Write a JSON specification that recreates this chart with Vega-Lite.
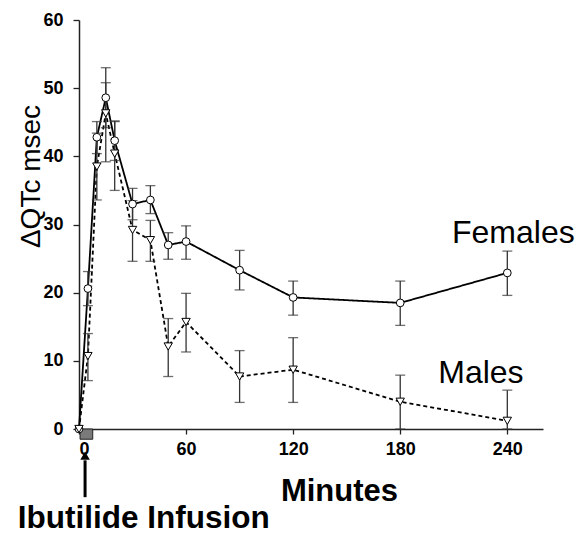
{
  "$schema": "https://vega.github.io/schema/vega-lite/v6.json",
  "width": 464,
  "height": 409,
  "autosize": {"type": "none"},
  "padding": {"left": 79, "top": 20, "right": 33, "bottom": 105},
  "background": "white",
  "config": {
    "view": {"stroke": null},
    "font": "Liberation Sans",
    "axis": {"grid": false, "domainColor": "#222", "domainWidth": 1.5, "tickColor": "#222", "tickWidth": 1.3, "labelColor": "black", "titleColor": "black"}
  },
  "datasets": {
    "series": [
      {"t": 0, "sex": "Females", "v": 0},
      {"t": 5, "sex": "Females", "v": 20.6, "lo": 18.1, "hi": 23.1},
      {"t": 10, "sex": "Females", "v": 42.8, "lo": 40.4, "hi": 45.1},
      {"t": 15, "sex": "Females", "v": 48.6, "lo": 44.2, "hi": 53.0},
      {"t": 20, "sex": "Females", "v": 42.3, "lo": 39.4, "hi": 45.2},
      {"t": 30, "sex": "Females", "v": 33.0, "lo": 30.7, "hi": 35.3},
      {"t": 40, "sex": "Females", "v": 33.6, "lo": 31.6, "hi": 35.7},
      {"t": 50, "sex": "Females", "v": 27.0, "lo": 24.9, "hi": 28.8},
      {"t": 60, "sex": "Females", "v": 27.5, "lo": 24.9, "hi": 29.8},
      {"t": 90, "sex": "Females", "v": 23.3, "lo": 20.4, "hi": 26.2},
      {"t": 120, "sex": "Females", "v": 19.3, "lo": 16.7, "hi": 21.7},
      {"t": 180, "sex": "Females", "v": 18.5, "lo": 15.2, "hi": 21.7},
      {"t": 240, "sex": "Females", "v": 22.9, "lo": 19.6, "hi": 26.1},
      {"t": 0, "sex": "Males", "v": 0},
      {"t": 5, "sex": "Males", "v": 10.7, "lo": 7.1, "hi": 14.0},
      {"t": 10, "sex": "Males", "v": 38.5, "lo": 33.6, "hi": 43.4},
      {"t": 15, "sex": "Males", "v": 46.3, "lo": 39.2, "hi": 50.8},
      {"t": 20, "sex": "Males", "v": 40.4, "lo": 35.0, "hi": 45.1},
      {"t": 30, "sex": "Males", "v": 29.2, "lo": 24.6, "hi": 33.5},
      {"t": 40, "sex": "Males", "v": 27.7, "lo": 24.6, "hi": 30.6},
      {"t": 50, "sex": "Males", "v": 12.1, "lo": 7.7, "hi": 16.2},
      {"t": 60, "sex": "Males", "v": 15.7, "lo": 11.3, "hi": 19.9},
      {"t": 90, "sex": "Males", "v": 7.7, "lo": 3.9, "hi": 11.5},
      {"t": 120, "sex": "Males", "v": 8.7, "lo": 3.9, "hi": 13.4},
      {"t": 180, "sex": "Males", "v": 4.0, "lo": 0, "hi": 7.9},
      {"t": 240, "sex": "Males", "v": 1.2, "lo": 0, "hi": 5.7}
    ],
    "labels": [
      {"label": "Females", "t": 209, "v": 27.3},
      {"label": "Males", "t": 201.3, "v": 6.7}
    ],
    "note": [{"label": "Ibutilide Infusion", "t": 36.3, "v": -14.5}],
    "infusion": [{"start": 0.6, "end": 7.7, "top": 0, "bottom": -1.5}],
    "arrow": [{"t": 3.4, "from": -10, "to": -4.6, "tip": -3.9}]
  },
  "layer": [
    {
      "data": {"name": "infusion"},
      "mark": {"type": "rect", "fill": "#7a7a7a", "stroke": "#222", "strokeWidth": 1},
      "encoding": {
        "x": {"field": "start", "type": "quantitative", "scale": {"domain": [0, 260], "nice": false},
          "axis": {"values": [0, 60, 120, 180, 240], "title": "Minutes", "labelFontSize": 18, "labelFontWeight": "bold", "labelPadding": 6, "tickSize": 5, "titleFontSize": 31, "titleFontWeight": "bold", "titleX": 260, "titleY": 71, "titleBaseline": "alphabetic", "titleAlign": "center"}},
        "x2": {"field": "end"},
        "y": {"field": "top", "type": "quantitative", "scale": {"domain": [0, 60], "nice": false},
          "axis": {"values": [0, 10, 20, 30, 40, 50, 60], "title": "ΔQTc msec", "labelFontSize": 18, "labelFontWeight": "bold", "labelPadding": 10, "tickSize": 6, "titleFontSize": 28, "titleFontWeight": "normal", "titleX": -40, "titleY": 156, "titleBaseline": "alphabetic", "titleAlign": "center", "titleAngle": -90}},
        "y2": {"field": "bottom"}
      }
    },
    {
      "data": {"name": "series"},
      "mark": {"type": "line", "color": "black", "strokeWidth": 1.8},
      "encoding": {
        "x": {"field": "t", "type": "quantitative", "scale": {"domain": [0, 260], "nice": false}},
        "y": {"field": "v", "type": "quantitative", "scale": {"domain": [0, 60], "nice": false}},
        "detail": {"field": "sex"},
        "strokeDash": {"field": "sex", "type": "nominal", "scale": {"domain": ["Females", "Males"], "range": [[1, 0], [4, 3]]}, "legend": null}
      }
    },
    {
      "data": {"name": "series"},
      "transform": [{"filter": "isValid(datum.lo)"}],
      "layer": [
        {
          "mark": {"type": "rule", "color": "#333", "strokeWidth": 1.3},
          "encoding": {
            "x": {"field": "t", "type": "quantitative", "scale": {"domain": [0, 260], "nice": false}},
            "y": {"field": "lo", "type": "quantitative", "scale": {"domain": [0, 60], "nice": false}},
            "y2": {"field": "hi"}
          }
        },
        {
          "mark": {"type": "tick", "orient": "horizontal", "color": "#333", "thickness": 1.3, "size": 10},
          "encoding": {
            "x": {"field": "t", "type": "quantitative", "scale": {"domain": [0, 260], "nice": false}},
            "y": {"field": "hi", "type": "quantitative", "scale": {"domain": [0, 60], "nice": false}}
          }
        },
        {
          "mark": {"type": "tick", "orient": "horizontal", "color": "#333", "thickness": 1.3, "size": 10},
          "encoding": {
            "x": {"field": "t", "type": "quantitative", "scale": {"domain": [0, 260], "nice": false}},
            "y": {"field": "lo", "type": "quantitative", "scale": {"domain": [0, 60], "nice": false}}
          }
        }
      ]
    },
    {
      "data": {"name": "series"},
      "mark": {"type": "point", "filled": true, "fill": "white", "stroke": "black", "strokeWidth": 1, "opacity": 1},
      "encoding": {
        "x": {"field": "t", "type": "quantitative", "scale": {"domain": [0, 260], "nice": false}},
        "y": {"field": "v", "type": "quantitative", "scale": {"domain": [0, 60], "nice": false}},
        "shape": {"field": "sex", "type": "nominal", "scale": {"domain": ["Females", "Males"], "range": ["circle", "triangle-down"]}, "legend": null},
        "size": {"field": "sex", "type": "nominal", "scale": {"domain": ["Females", "Males"], "range": [60, 70]}, "legend": null}
      }
    },
    {
      "data": {"name": "labels"},
      "mark": {"type": "text", "align": "left", "baseline": "alphabetic", "fontSize": 32, "font": "Liberation Sans", "color": "black"},
      "encoding": {
        "x": {"field": "t", "type": "quantitative", "scale": {"domain": [0, 260], "nice": false}},
        "y": {"field": "v", "type": "quantitative", "scale": {"domain": [0, 60], "nice": false}},
        "text": {"field": "label"}
      }
    },
    {
      "data": {"name": "note"},
      "mark": {"type": "text", "align": "center", "baseline": "alphabetic", "fontSize": 31.5, "fontWeight": "bold", "font": "Liberation Sans", "color": "black"},
      "encoding": {
        "x": {"field": "t", "type": "quantitative", "scale": {"domain": [0, 260], "nice": false}},
        "y": {"field": "v", "type": "quantitative", "scale": {"domain": [0, 60], "nice": false}},
        "text": {"field": "label"}
      }
    },
    {
      "data": {"name": "arrow"},
      "mark": {"type": "rule", "color": "black", "strokeWidth": 3},
      "encoding": {
        "x": {"field": "t", "type": "quantitative", "scale": {"domain": [0, 260], "nice": false}},
        "y": {"field": "from", "type": "quantitative", "scale": {"domain": [0, 60], "nice": false}},
        "y2": {"field": "to"}
      }
    },
    {
      "data": {"name": "arrow"},
      "mark": {"type": "point", "shape": "triangle-up", "filled": true, "color": "black", "size": 90, "opacity": 1},
      "encoding": {
        "x": {"field": "t", "type": "quantitative", "scale": {"domain": [0, 260], "nice": false}},
        "y": {"field": "tip", "type": "quantitative", "scale": {"domain": [0, 60], "nice": false}}
      }
    }
  ]
}
